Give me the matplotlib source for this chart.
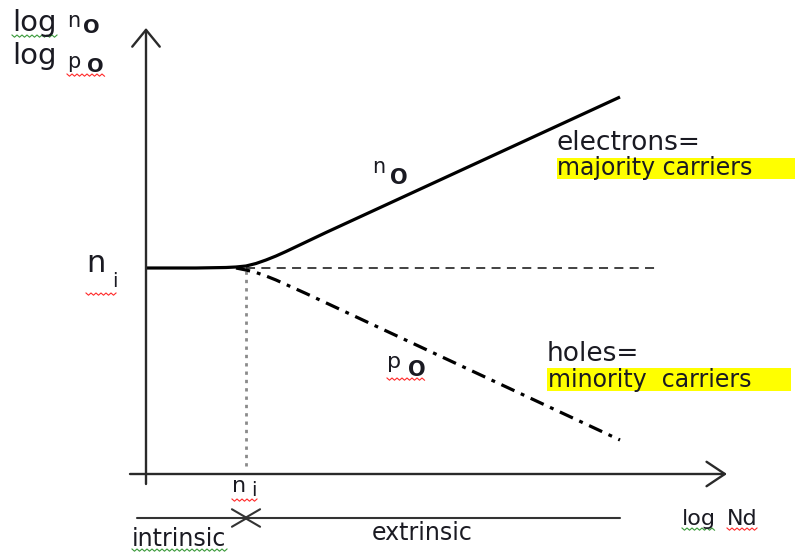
import numpy as np
import matplotlib
matplotlib.use('Agg')
import matplotlib.pyplot as plt
from matplotlib.transforms import Affine2D
from matplotlib.patches import Rectangle

W, H = 795, 554

# carrier densities vs doping, in decades (log Nd on x, log n on y)
nd_n0 = [0.0, 1.0, 1.6, 1.8, 2.0, 2.2, 2.4, 2.6, 2.8, 3.0, 3.2, 3.6, 9.48]
log_n0 = [4.12, 4.12, 4.13, 4.14, 4.16, 4.21, 4.28, 4.36, 4.45, 4.545, 4.64, 4.83, 7.54]
nd_p0 = [1.8, 2.0, 2.2, 2.4, 2.6, 2.8, 3.2, 9.48]
log_p0 = [4.12, 4.08, 4.03, 3.96, 3.88, 3.79, 3.61, 0.68]
log_ni = 4.12
nd_ni = 2.0
ni_line_end = 10.28
x_axis = [-0.32, 11.62]
y_axis = [-0.2, 8.92]
regime_y = -0.88
regime_ends = [-0.18, 9.48]

fig = plt.figure(figsize=(W / 100, H / 100), dpi=100)
ax = fig.add_axes([0, 0, 1, 1])
ax.set_xlim(-146 / 50, (W - 146) / 50)
ax.set_ylim(-(H - 474) / 50, 474 / 50)
ax.axis('off')

# pixel coords, y pointing down, for the labels
pix = Affine2D().scale(1, -1).translate(0, H)

ink = '#1a1a22'
arrow = dict(color='#2a2a2a', lw=1.7, shrinkA=0, shrinkB=0)

# axes with open arrow heads
ax.annotate('', xy=(0, y_axis[1]), xytext=(0, y_axis[0]),
            arrowprops=dict(arrowstyle='->,head_length=0.55,head_width=0.45',
                            mutation_scale=22, **arrow))
ax.annotate('', xy=(x_axis[1], 0), xytext=(x_axis[0], 0),
            arrowprops=dict(arrowstyle='->,head_length=0.6,head_width=0.4',
                            mutation_scale=22, **arrow))

# intrinsic / extrinsic regimes
regime = dict(arrowstyle='->,head_length=0.6,head_width=0.35', mutation_scale=18,
              color='#333', lw=1.5, shrinkA=0, shrinkB=0)
ax.annotate('', xy=(nd_ni + 0.06, regime_y), xytext=(regime_ends[0], regime_y),
            arrowprops=regime)
ax.annotate('', xy=(nd_ni - 0.06, regime_y), xytext=(regime_ends[1], regime_y),
            arrowprops=regime)

# ni reference lines
ax.plot([nd_ni, ni_line_end], [log_ni, log_ni], color='#333', lw=1.3,
        dashes=(5, 3.5))
ax.plot([nd_ni, nd_ni], [log_ni - 0.06, 0.08], color='#8a8a8a', lw=2.0,
        dashes=(1.2, 1.8))

# n0 and p0
ax.plot(nd_n0, log_n0, color='black', lw=2.3, solid_capstyle='butt')
ax.plot(nd_p0, log_p0, color='black', lw=2.3,
        dashes=(4.5, 2.2, 1.2, 2.2))

# highlighted phrases
ax.add_patch(Rectangle((557, 158), 238, 21, transform=pix, color='#ffff00', lw=0))
ax.add_patch(Rectangle((547, 368), 244, 23, transform=pix, color='#ffff00', lw=0))


def label(x, y, s, size, **kw):
    return ax.text(x, y, s, transform=pix, fontsize=size, color=ink,
                   ha='left', va='baseline', **kw)


t_log1 = label(12, 31, 'log', 21)
label(67, 27, 'n', 15)
label(83, 33, 'O', 14, fontweight='bold')
label(12, 64, 'log', 21)
t_p1 = label(67, 68, 'p', 15)
t_o1 = label(87, 72, 'O', 14, fontweight='bold')

t_ni = label(86, 272, 'n', 22)
t_i = label(112, 287, 'i', 14)

label(372, 173, 'n', 15)
label(390, 184, 'O', 15, fontweight='bold')
t_p2 = label(387, 368, 'p', 16)
t_o2 = label(408, 376, 'O', 15, fontweight='bold')

label(557, 150, 'electrons=', 19)
label(557, 175, 'majority carriers', 17)
label(547, 361, 'holes=', 19)
label(548, 387, 'minority  carriers', 17)

t_n3 = label(232, 492, 'n', 16)
t_i3 = label(251, 496, 'i', 14)
t_intr = label(132, 546, 'intrinsic', 17)
label(372, 540, 'extrinsic', 17)
t_lognd = label(682, 525, 'log', 16)
t_nd = label(727, 525, 'Nd', 16)

# proofing squiggles under the flagged words
fig.canvas.draw()
renderer = fig.canvas.get_renderer()


def squiggle(first, last, y, color):
    x0 = first.get_window_extent(renderer).x0
    x1 = last.get_window_extent(renderer).x1
    xs = np.arange(x0, x1 + 1, 2.5)
    ys = y + np.where(np.arange(len(xs)) % 2 == 0, 0, 2.2)
    ax.plot(xs, ys, transform=pix, color=color, lw=0.8)


squiggle(t_log1, t_log1, 35, '#3a9a3a')
squiggle(t_p1, t_o1, 74, '#ff2a2a')
squiggle(t_ni, t_i, 293, '#ff2a2a')
squiggle(t_p2, t_o2, 378, '#ff2a2a')
squiggle(t_n3, t_i3, 499, '#ff2a2a')
squiggle(t_intr, t_intr, 549, '#3a9a3a')
squiggle(t_lognd, t_lognd, 528, '#3a9a3a')
squiggle(t_nd, t_nd, 528, '#ff2a2a')

fig.savefig('out.png', dpi=100)
